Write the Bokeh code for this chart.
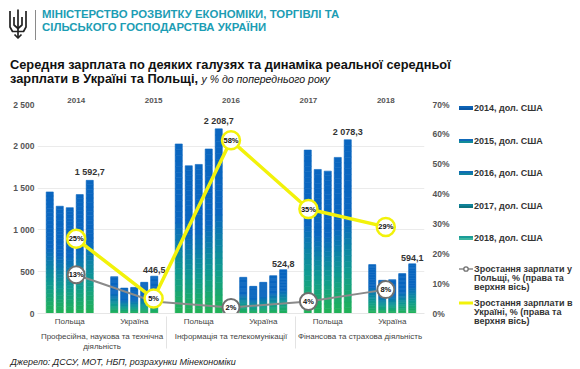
import numpy as np
from bokeh.plotting import figure
from bokeh.models import (FactorRange, Range1d, ColumnDataSource, CategoricalAxis, LinearAxis,
                          FixedTicker, PrintfTickFormatter, Title, Div)
from bokeh.transform import dodge
from bokeh.layouts import column, row
from bokeh.core.properties import value
from bokeh.embed import file_html
from bokeh.resources import INLINE

# ---------------- data ----------------
sectors = ["Професійна, наукова та технічна\nдіяльність",
           "Інформація та телекомунікації",
           "Фінансова та страхова діяльність"]
countries = ["Польща", "Україна"]
years = ["2014", "2015", "2016", "2017", "2018"]

# average wage, USD; order: (sector, country) groups
wage_2014 = [1454, 441, 2028, 433, 1955, 585]
wage_2015 = [1283, 304, 1767, 325, 1723, 397]
wage_2016 = [1266, 312, 1783, 373, 1703, 405]
wage_2017 = [1422, 373, 1968, 453, 1867, 477]
wage_2018 = [1592.7, 446.5, 2208.7, 524.8, 2078.3, 594.1]

# real wage growth, % (right & top axes)
growth_poland = [13, 4, 2, 4, 8]
growth_poland_shown = [True, False, True, True, True]
growth_ukraine = [25, 5, 58, 35, 29]

series_names = ["2014, дол. США", "2015, дол. США", "2016, дол. США",
                "2017, дол. США", "2018, дол. США"]
series_values = [wage_2014, wage_2015, wage_2016, wage_2017, wage_2018]
line_names = [["Зростання зарплати у", "Польщі, %  (права та", "верхня вісь)"],
              ["Зростання зарплати в", "Україні, % (права та", "верхня вісь)"]]

ministry = ["МІНІСТЕРСТВО РОЗВИТКУ ЕКОНОМІКИ, ТОРГІВЛІ ТА", "СІЛЬСЬКОГО ГОСПОДАРСТВА УКРАЇНИ"]
title_1 = "Середня зарплата по деяких галузях та динаміка реальної середньої"
title_2 = "зарплати в Україні та Польщі,"
title_unit = "у % до попереднього року"
source_text = "Джерело: ДССУ, МОТ, НБП, розрахунки Мінекономіки"

# ---------------- styles ----------------
FONT = "Liberation Sans"
legend_top = ["#0d63b6", "#0f69b8", "#106db4", "#10839a", "#1a9c98"]
legend_bot = ["#0b58a6", "#128c9a", "#11819f", "#0e7480", "#3cb6a0"]
bar_offsets = [-0.31, -0.155, 0.0, 0.155, 0.31]
BAR_W = 0.11
GREEN = np.array([0x22, 0xb3, 0x55])
TEAL = np.array([0x10, 0x9a, 0x92])
BLUE = np.array([0x0a, 0x66, 0xc0])
GRAY = "#8a8a8a"
YELLOW = "#f2f20a"


def grad_color(f):
    if f < 0.25:
        t = f / 0.25
        c = GREEN + (TEAL - GREEN) * t
    elif f < 0.55:
        t = (f - 0.25) / 0.30
        c = TEAL + (BLUE - TEAL) * t
    else:
        c = BLUE
    c = np.clip(np.round(c), 0, 255).astype(int)
    return "#%02x%02x%02x" % tuple(c)


factors = [(s, c) for s in sectors for c in countries]

# ---------------- header (HTML) ----------------
trident_svg = (
    '<svg width="22" height="32" viewBox="0 0 22 32" '
    'style="position:absolute;left:9px;top:9px">'
    '<g fill="none" stroke="#222" stroke-width="1.7" stroke-linejoin="round">'
    '<path d="M9 0.5 L9 23"/>'
    '<path d="M1 2 L1 18 L3.5 22.5 L14.5 22.5 L17 18 L17 2"/>'
    '<path d="M5 8 L5 16 L9 19.5 L13 16 L13 8"/>'
    '<path d="M9 23 L9 28"/>'
    '<path d="M5.5 25.5 L9 29 L12.5 25.5"/>'
    '</g></svg>'
)
header_html = (
    f'<div style="position:relative;width:580px;height:92px;font-family:\'{FONT}\',sans-serif;">'
    + trident_svg +
    '<div style="position:absolute;left:35px;top:10px;width:1px;height:30px;background:#8a8a8a"></div>'
    '<div style="position:absolute;left:42px;top:8px;color:#1c9db4;font-weight:bold;'
    f'font-size:11.4px;line-height:13px;white-space:nowrap">{ministry[0]}<br>{ministry[1]}</div>'
    '<div style="position:absolute;left:10px;top:58px;color:#111;font-weight:bold;'
    f'font-size:12.8px;line-height:14px;white-space:nowrap">{title_1}<br>{title_2} '
    f'<i style="font-weight:normal;font-size:10.5px">{title_unit}</i></div>'
    '</div>'
)
head = Div(text=header_html, width=580, height=92, margin=0)

# ---------------- main figure ----------------
p = figure(width=452, height=277,
           x_range=FactorRange(*factors, factor_padding=0, group_padding=0, range_padding=0,
                               subgroup_padding=0),
           y_range=Range1d(0, 2500),
           output_backend="svg", toolbar_location=None,
           min_border_left=37, min_border_right=25, min_border_top=12, min_border_bottom=56)
p.extra_x_ranges = {"years": FactorRange(*years, range_padding=0, factor_padding=0)}
p.extra_y_ranges = {"pct": Range1d(0, 70)}
p.outline_line_color = None
p.xgrid.visible = False
p.ygrid.grid_line_color = "#ebebeb"
p.ygrid.grid_line_width = 1
p.background_fill_color = "white"

# left axis
yax = p.yaxis[0]
yax.ticker = FixedTicker(ticks=[0, 500, 1000, 1500, 2000, 2500])
yax.major_label_overrides = {0: "0", 500: "500", 1000: "1 000", 1500: "1 500",
                             2000: "2 000", 2500: "2 500"}
yax.axis_line_color = None
yax.major_tick_line_color = None
yax.major_tick_out = 0
yax.minor_tick_line_color = None
yax.minor_tick_out = 0
yax.major_label_text_font = FONT
yax.major_label_text_font_size = "8.5px"
yax.major_label_text_font_style = "bold"
yax.major_label_text_color = "#555555"
yax.major_label_standoff = 3

# bottom axis
xax = p.xaxis[0]
xax.axis_line_color = "#e6e6e6"
xax.major_tick_line_color = None
xax.major_tick_out = 0
xax.minor_tick_line_color = None
xax.minor_tick_out = 0
xax.major_label_text_font = FONT
xax.major_label_text_font_size = "8px"
xax.major_label_text_color = "#444444"
xax.major_label_standoff = 3
xax.group_text_font = FONT
xax.group_text_font_size = "8px"
xax.group_text_font_style = "normal"
xax.group_text_color = "#444444"
xax.separator_line_color = "#e3e3e3"
xax.separator_line_width = 1

# right axis
rax = LinearAxis(y_range_name="pct", ticker=FixedTicker(ticks=list(range(0, 71, 10))),
                 formatter=PrintfTickFormatter(format="%d%%"))
rax.axis_line_color = None
rax.major_tick_line_color = None
rax.major_tick_out = 0
rax.minor_tick_line_color = None
rax.minor_tick_out = 0
rax.major_label_text_font = FONT
rax.major_label_text_font_size = "8.5px"
rax.major_label_text_font_style = "bold"
rax.major_label_text_color = "#555555"
rax.major_label_standoff = 8
p.add_layout(rax, "right")

# top axis
tax = CategoricalAxis(x_range_name="years")
tax.axis_line_color = None
tax.major_tick_line_color = None
tax.major_tick_out = 0
tax.minor_tick_line_color = None
tax.minor_tick_out = 0
tax.major_label_text_font = FONT
tax.major_label_text_font_size = "8px"
tax.major_label_text_font_style = "bold"
tax.major_label_text_color = "#555555"
tax.major_label_standoff = 2
p.add_layout(tax, "above")

# bars with vertical gradient (stacked slices)
N = 30
for vals, off in zip(series_values, bar_offsets):
    xs, bots, tops, cols = [], [], [], []
    for fac, v in zip(factors, vals):
        for i in range(N):
            xs.append(fac)
            bots.append(v * i / N)
            tops.append(v * (i + 1) / N)
            cols.append(grad_color((i + 0.5) / N))
    src = ColumnDataSource(dict(x=xs, bottom=bots, top=tops, color=cols))
    p.vbar(x=dodge("x", off, range=p.x_range), bottom="bottom", top="top", width=BAR_W,
           fill_color="color", line_color="color", line_width=0.6, source=src)


def fmt(v):
    s = f"{v:,.1f}"
    return s.replace(",", " ").replace(".", ",")


lbl_src = ColumnDataSource(dict(x=factors, y=wage_2018, t=[fmt(v) for v in wage_2018]))
p.text(x=dodge("x", bar_offsets[-1], range=p.x_range), y="y", text="t", source=lbl_src,
       y_offset=-3, text_align="center", text_baseline="bottom",
       text_font=value(FONT), text_font_size="9px", text_font_style="bold", text_color="#333333")

# growth lines
p.line(x=years, y=growth_poland, x_range_name="years", y_range_name="pct",
       line_color=GRAY, line_width=2)
px = [y for y, s in zip(years, growth_poland_shown) if s]
pv = [v for v, s in zip(growth_poland, growth_poland_shown) if s]
p.scatter(x=px, y=pv, x_range_name="years", y_range_name="pct", size=17, marker="circle",
          fill_color="white", line_color="#707070", line_width=2)
p.text(x=px, y=pv, text=[f"{v}%" for v in pv],
       x_range_name="years", y_range_name="pct", text_align="center", text_baseline="middle",
       text_font=value(FONT), text_font_size="7.5px", text_font_style="bold", text_color="#111111")

p.line(x=years, y=growth_ukraine, x_range_name="years", y_range_name="pct",
       line_color=YELLOW, line_width=3.5)
p.scatter(x=years, y=growth_ukraine, x_range_name="years", y_range_name="pct", size=18,
          marker="circle", fill_color="white", line_color=YELLOW, line_width=2.5)
p.text(x=years, y=growth_ukraine, text=[f"{v}%" for v in growth_ukraine],
       x_range_name="years", y_range_name="pct", text_align="center", text_baseline="middle",
       text_font=value(FONT), text_font_size="7.5px", text_font_style="bold", text_color="#111111")

p.add_layout(Title(text=source_text, align="left", offset=-27, standoff=0,
                   text_font=FONT, text_font_size="9px", text_font_style="italic",
                   text_color="#222222"), "below")

# ---------------- legend (HTML) ----------------
LEG_W, LEG_H = 128, 277
txt_style = ("position:absolute;left:22px;font-size:9px;font-weight:bold;color:#333;"
             "white-space:nowrap;line-height:{lh}px;top:{t}px")
parts = [f'<div style="position:relative;width:{LEG_W}px;height:{LEG_H}px;'
         f'font-family:\'{FONT}\',sans-serif;">']
centers = [16, 48.5, 81, 113.5, 146]
for name, ct, cb, cy in zip(series_names, legend_top, legend_bot, centers):
    parts.append(f'<svg width="14" height="4" style="position:absolute;left:7px;top:{cy - 2}px">'
                 f'<rect x="0" y="0" width="14" height="2" fill="{ct}"/>'
                 f'<rect x="0" y="2" width="14" height="2" fill="{cb}"/></svg>')
    parts.append(f'<div style="{txt_style.format(lh=10, t=cy - 5)}">{name}</div>')
line_first = [177, 211]
for lines, cy, kind in zip(line_names, line_first, ["gray", "yellow"]):
    if kind == "gray":
        g = (f'<svg width="16" height="8" style="position:absolute;left:6px;top:{cy - 4}px">'
             f'<line x1="1" y1="4" x2="15" y2="4" stroke="{GRAY}" stroke-width="1.5"/>'
             f'<circle cx="8" cy="4" r="2.2" fill="white" stroke="#707070" stroke-width="1.3"/></svg>')
    else:
        g = (f'<svg width="16" height="8" style="position:absolute;left:6px;top:{cy - 4}px">'
             f'<line x1="1" y1="4" x2="15" y2="4" stroke="{YELLOW}" stroke-width="3"/></svg>')
    parts.append(g)
    parts.append(f'<div style="{txt_style.format(lh=9, t=cy - 4.5)}">' + "<br>".join(lines) + '</div>')
parts.append('</div>')
legend_div = Div(text="".join(parts), width=LEG_W, height=LEG_H, margin=0)

layout = column(head, row(p, legend_div, spacing=0), spacing=0)
open("out.html", "w").write(file_html(layout, INLINE))
